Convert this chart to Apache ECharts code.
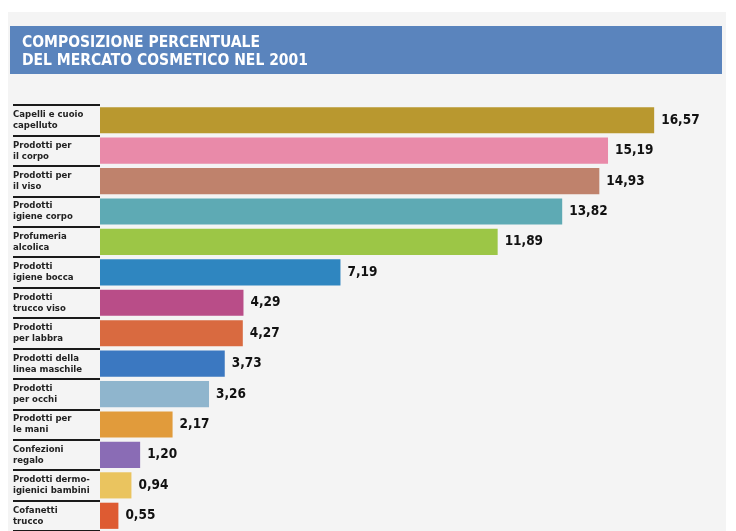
<!DOCTYPE html>
<html><head><meta charset="utf-8">
<script src="https://cdn.jsdelivr.net/npm/echarts@6/dist/echarts.min.js"></script>
<style>html,body{margin:0;padding:0;background:#fff}#c{width:736px;height:531px}</style>
</head><body><div id="c"></div>
<script>
var categories = [
  "Capelli e cuoio\ncapelluto",
  "Prodotti per\nil corpo",
  "Prodotti per\nil viso",
  "Prodotti\nigiene corpo",
  "Profumeria\nalcolica",
  "Prodotti\nigiene bocca",
  "Prodotti\ntrucco viso",
  "Prodotti\nper labbra",
  "Prodotti della\nlinea maschile",
  "Prodotti\nper occhi",
  "Prodotti per\nle mani",
  "Confezioni\nregalo",
  "Prodotti dermo-\nigienici bambini",
  "Cofanetti\ntrucco"
];
var values = [16.57, 15.19, 14.93, 13.82, 11.89, 7.19, 4.29, 4.27, 3.73, 3.26, 2.17, 1.20, 0.94, 0.55];
var colors = ["#b9982f","#e98aa9","#bf826c","#5eaab4","#9cc646","#2f86c0","#b94d88","#d96a40","#3b78c1","#8fb5cd","#e19b3b","#8a6cb5","#eac45f","#de5b32"];
var titleText = "COMPOSIZIONE PERCENTUALE\nDEL MERCATO COSMETICO NEL 2001";

var font = "'DejaVu Sans Condensed','Liberation Sans Narrow','Open Sans',sans-serif";
var chart = echarts.init(document.getElementById('c'));
chart.setOption({
  backgroundColor: '#ffffff',
  animation: false,
  graphic: [
    {type:'rect', shape:{x:8,y:12,width:718,height:530}, style:{fill:'#f4f4f4'}, z:-10},
    {type:'rect', shape:{x:10,y:26,width:712,height:48}, style:{fill:'#5a84bd'}, z:-5}
  ],
  title: {
    text: titleText, left: 17, top: 29,
    textStyle: {color:'#ffffff', fontSize:15.5, fontWeight:'bold', fontFamily:font, lineHeight:18}
  },
  grid: {left:100, right:34, top:105, height:430, containLabel:false},
  xAxis: {type:'value', min:0, max:18, show:false},
  yAxis: {
    type:'category', data:categories, inverse:true,
    axisLine:{show:false},
    axisTick:{show:true, length:87, lineStyle:{color:'#1a1a1a', width:2}},
    axisLabel:{align:'left', margin:87, color:'#222', fontSize:9.5, fontWeight:'bold', fontFamily:font, lineHeight:11}
  },
  series: [{
    type:'bar', data:values, barCategoryGap:'14%',
    itemStyle:{color:function(p){return colors[p.dataIndex];}},
    label:{show:true, position:'right', distance:7, color:'#111', fontSize:13.5, fontWeight:'bold', fontFamily:font,
      formatter:function(p){return p.value.toFixed(2).replace('.',',');}}
  }]
});
</script></body></html>
